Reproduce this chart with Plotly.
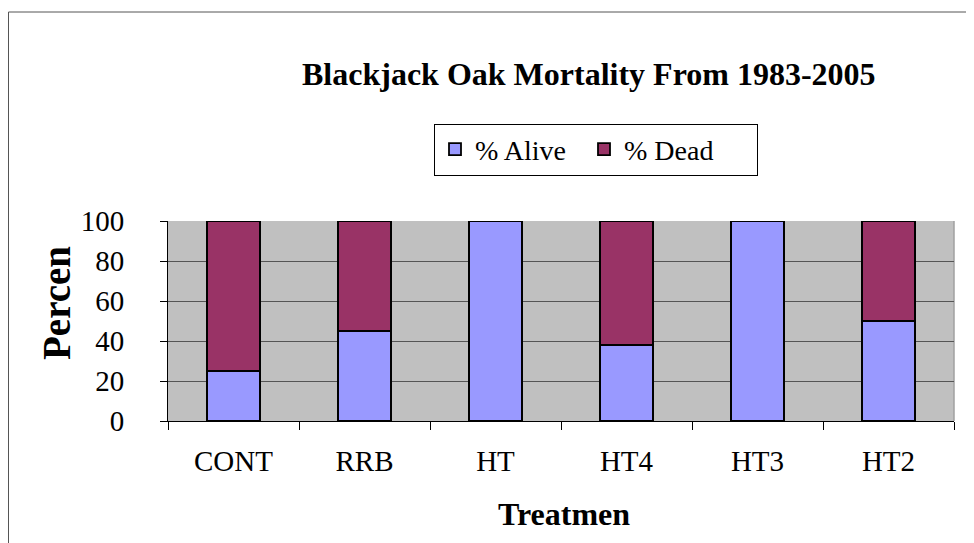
import plotly.graph_objects as go

categories = ["CONT", "RRB", "HT", "HT4", "HT3", "HT2"]
alive = [25, 45, 100, 38, 100, 50]
dead = [75, 55, 0, 62, 0, 50]
y_ticks = [0, 20, 40, 60, 80, 100]

FONT = "Liberation Serif"
OFF = 8  # page body margin
W, H = 974, 543
# plot area in screen pixels
PX0, PX1, PY0, PY1 = 168, 954, 221, 421
L = PX0 - OFF
T = PY0 - OFF
R = W - (PX1 - OFF)
B = H - (PY1 - OFF)
pw, ph = PX1 - PX0, PY1 - PY0

def px_x(x):
    return (x - PX0) / pw

def px_y(y):
    return (PY1 - y) / ph

fig = go.Figure()
fig.add_bar(x=categories, y=alive, name="% Alive", legendwidth=104,
            marker=dict(color="#9999FF", line=dict(color="black", width=1.8)))
fig.add_bar(x=categories, y=dead, name="% Dead", legendwidth=128,
            marker=dict(color="#993366", line=dict(color="black", width=1.8)))

fig.update_layout(
    barmode="stack",
    bargap=0.59,
    width=W, height=H,
    margin=dict(l=L, r=R, t=T, b=B),
    paper_bgcolor="white",
    plot_bgcolor="#C0C0C0",
    font=dict(family=FONT, color="black", size=29),
    showlegend=True,
    legend=dict(
        orientation="h", x=px_x(596), y=px_y(149.5), xanchor="center", yanchor="middle",
        bordercolor="black", borderwidth=1, bgcolor="white",
        font=dict(family=FONT, size=28), itemwidth=30, traceorder="normal",
    ),
    annotations=[
        dict(text="<b>Blackjack Oak Mortality From 1983-2005</b>", x=px_x(589), y=px_y(54),
             xref="paper", yref="paper", xanchor="center", yanchor="top",
             showarrow=False, font=dict(family=FONT, size=32)),
        dict(text="<b>Percen</b>", x=px_x(56), y=px_y(303), xref="paper", yref="paper",
             xanchor="center", yanchor="middle",
             showarrow=False, textangle=-90, font=dict(family=FONT, size=39)),
        dict(text="<b>Treatmen</b>", x=px_x(564), y=px_y(514), xref="paper", yref="paper",
             xanchor="center", yanchor="middle",
             showarrow=False, font=dict(family=FONT, size=32)),
    ],
    shapes=[
        dict(type="rect", xref="paper", yref="paper", x0=px_x(OFF + 0.5), x1=px_x(1000),
             y0=px_y(12), y1=px_y(600), line=dict(color="#555555", width=1), layer="below"),
        dict(type="line", xref="paper", yref="paper", x0=1, x1=1, y0=0, y1=1,
             line=dict(color="#A0A0A0", width=1.5), layer="below"),
    ],
)

fig.update_xaxes(
    type="category", tickson="boundaries", ticks="outside", ticklen=8, tickcolor="black",
    showline=True, linecolor="black", linewidth=1, showgrid=False,
    tickfont=dict(family=FONT, size=29), ticklabelstandoff=14,
)
fig.update_yaxes(
    range=[0, 100], tickvals=y_ticks, ticks="outside", ticklen=7, tickcolor="black",
    showline=True, linecolor="black", linewidth=1, showgrid=True, gridcolor="#555555", gridwidth=1,
    tickfont=dict(family=FONT, size=29), zeroline=False, ticklabelstandoff=30,
)

fig.write_html("out.html")
